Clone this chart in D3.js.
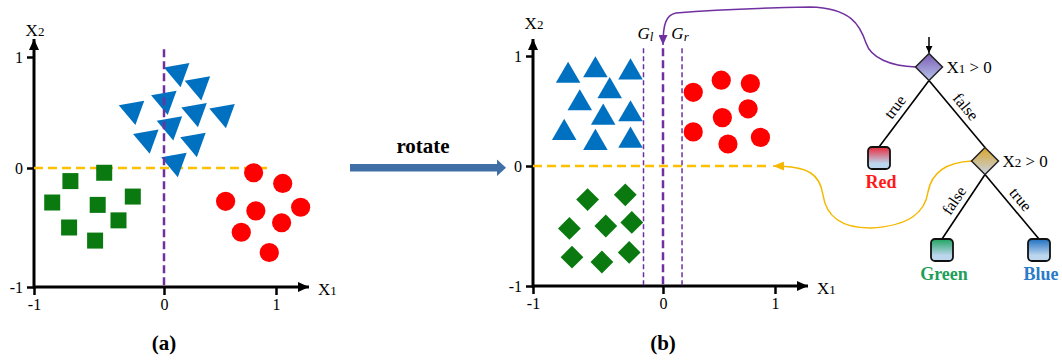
<!DOCTYPE html>
<html>
<head>
<meta charset="utf-8">
<script src="https://cdn.jsdelivr.net/npm/d3@7"></script>
<style>
  body { margin: 0; background: #fff; }
  svg { display: block; }
</style>
</head>
<body>
<svg id="chart"></svg>
<script>
const tickValues = [-1, 0, 1];
const tickLabels = ["-1", "0", "1"];

// panel (a): original points
const squaresA = [[-0.72, -0.11], [-0.46, -0.04], [-0.86, -0.29], [-0.51, -0.31], [-0.24, -0.24], [-0.73, -0.5], [-0.35, -0.44], [-0.53, -0.61]];
const circlesA = [[0.8, -0.04], [1.06, -0.13], [0.55, -0.28], [0.82, -0.36], [1.22, -0.33], [0.69, -0.54], [1.05, -0.46], [0.94, -0.71]];
const trianglesA = [[0.125, 0.86], [0.31, 0.74], [-0.24, 0.52], [0.01, 0.61], [0.28, 0.5], [0.53, 0.49], [0.06, 0.38], [-0.13, 0.26], [0.27, 0.23], [0.1, 0.05]];

// panel (b): rotated points
const trianglesB = [[-0.73, 0.82], [-0.52, 0.87], [-0.25, 0.85], [-0.41, 0.68], [-0.64, 0.57], [-0.46, 0.44], [-0.25, 0.47], [-0.76, 0.3], [-0.52, 0.21], [-0.25, 0.23]];
const circlesB = [[0.27, 0.67], [0.52, 0.78], [0.78, 0.75], [0.53, 0.44], [0.76, 0.52], [0.27, 0.31], [0.58, 0.2], [0.87, 0.26]];
const diamondsB = [[-0.58, -0.28], [-0.29, -0.24], [-0.72, -0.52], [-0.44, -0.5], [-0.24, -0.47], [-0.7, -0.76], [-0.47, -0.8], [-0.26, -0.72]];

const splitX = 0;
const splitY = 0;
const gapLeft = -0.15;
const gapRight = 0.17;
const lineTop = 1.07;
const lineRight = 0.96;

const width = 1062;
const height = 360;
const serif = "'Liberation Serif', 'Times New Roman', serif";

const svg = d3.select("#chart").attr("width", width).attr("height", height);
svg.append("rect").attr("width", width).attr("height", height).attr("fill", "#fff");

const defs = svg.append("defs");

function addMarker(id, color, len, wid) {
  defs
    .append("marker")
    .attr("id", id)
    .attr("markerUnits", "userSpaceOnUse")
    .attr("viewBox", `0 0 ${len} ${wid}`)
    .attr("markerWidth", len)
    .attr("markerHeight", wid)
    .attr("refX", len)
    .attr("refY", wid / 2)
    .attr("orient", "auto")
    .append("path")
    .attr("d", `M0,0L${len},${wid / 2}L0,${wid}Z`)
    .attr("fill", color);
}
addMarker("axisArrow", "#000", 11, 10);
addMarker("purpleArrow", "#7030a0", 10, 9);
addMarker("orangeArrow", "#f5b800", 11, 9);
addMarker("smallArrow", "#000", 7, 7);

function addGradient(id, top, bottom, stop) {
  const g = defs.append("linearGradient").attr("id", id).attr("x1", 0).attr("y1", 0).attr("x2", 0).attr("y2", 1);
  g.append("stop").attr("offset", "0%").attr("stop-color", top);
  g.append("stop").attr("offset", stop).attr("stop-color", bottom);
}
addGradient("gradRoot", "#7b5cb4", "#b6c3ea", "100%");
addGradient("gradGold", "#d8a62a", "#c9d2e6", "100%");
addGradient("gradRed", "#e8283a", "#bcd6ee", "75%");
addGradient("gradGreen", "#1ea35e", "#bcd6ee", "75%");
addGradient("gradBlue", "#1f6fc0", "#bcd6ee", "75%");

function makeX(x0) {
  return d3.scaleLinear().domain(tickValues).range([x0, x0 + 130, x0 + 242]);
}

function drawPanel(opts) {
  const { x, y, xEnd, yEnd, x1Label, x2Label, caption } = opts;
  const g = svg.append("g");

  const xAxis = d3.axisBottom(x).tickValues(tickValues).tickSize(8).tickPadding(4)
    .tickFormat((d, i) => tickLabels[i]);
  const yAxis = d3.axisLeft(y).tickValues(tickValues).tickSize(7).tickPadding(4)
    .tickFormat((d, i) => tickLabels[i]);

  g.append("g").attr("transform", `translate(0,${y(-1)})`).call(xAxis)
    .call((a) => a.select(".domain").remove());
  g.append("g").attr("transform", `translate(${x(-1)},0)`).call(yAxis)
    .call((a) => a.select(".domain").remove());
  g.selectAll(".tick line").attr("stroke", "#000").attr("stroke-width", 2.5);
  g.selectAll(".tick text").attr("fill", "#000").style("font-family", serif).style("font-size", "16px");

  g.append("line")
    .attr("x1", x(-1)).attr("y1", y(-1)).attr("x2", xEnd).attr("y2", y(-1))
    .attr("stroke", "#000").attr("stroke-width", 3).attr("marker-end", "url(#axisArrow)");
  g.append("line")
    .attr("x1", x(-1)).attr("y1", y(-1) + 1.5).attr("x2", x(-1)).attr("y2", yEnd)
    .attr("stroke", "#000").attr("stroke-width", 3).attr("marker-end", "url(#axisArrow)");

  const xl = g.append("text").attr("x", x1Label[0]).attr("y", x1Label[1])
    .style("font-family", serif).style("font-size", "17px").text("X");
  xl.append("tspan").style("font-size", "13px").text("1");
  const yl = g.append("text").attr("x", x2Label[0]).attr("y", x2Label[1]).attr("text-anchor", "middle")
    .style("font-family", serif).style("font-size", "17px").text("X");
  yl.append("tspan").style("font-size", "13px").text("2");

  g.append("text").attr("x", x(0)).attr("y", 350).attr("text-anchor", "middle")
    .style("font-family", serif).style("font-size", "21px").style("font-weight", "bold").text(caption);
  return g;
}

// ---------- panel (a)
const xA = makeX(34);
const yA = d3.scaleLinear().domain(tickValues).range([287, 168, 57]);
const gA = drawPanel({ x: xA, y: yA, xEnd: 309, yEnd: 39, x1Label: [318, 295], x2Label: [35, 36], caption: "(a)" });

gA.append("line")
  .attr("x1", xA(-1)).attr("x2", xA(lineRight)).attr("y1", yA(splitY)).attr("y2", yA(splitY))
  .attr("stroke", "#ffc000").attr("stroke-width", 2.5).attr("stroke-dasharray", "9,5");

gA.selectAll(".sq").data(squaresA).enter().append("rect")
  .attr("x", (d) => xA(d[0]) - 8).attr("y", (d) => yA(d[1]) - 8)
  .attr("width", 16).attr("height", 16).attr("fill", "#0a7a10");

gA.selectAll(".ci").data(circlesA).enter().append("circle")
  .attr("cx", (d) => xA(d[0])).attr("cy", (d) => yA(d[1])).attr("r", 9.6).attr("fill", "#ff0000");

const triSym = d3.symbol().type(d3.symbolTriangle).size(290);
gA.selectAll(".tr").data(trianglesA).enter().append("path")
  .attr("d", triSym)
  .attr("transform", (d) => `translate(${xA(d[0])},${yA(d[1])}) rotate(50)`)
  .attr("fill", "#0070c0");

gA.append("line")
  .attr("x1", xA(splitX)).attr("x2", xA(splitX)).attr("y1", yA(lineTop)).attr("y2", yA(-1))
  .attr("stroke", "#7030a0").attr("stroke-width", 2.5).attr("stroke-dasharray", "8,4");

// ---------- rotate arrow
const rot = svg.append("g");
rot.append("path")
  .attr("d", "M350,164L497,164L497,159.5L506,167.8L497,176L497,171.5L350,171.5Z")
  .attr("fill", "#3f6fa6");
rot.append("text").attr("x", 423).attr("y", 153).attr("text-anchor", "middle")
  .style("font-family", serif).style("font-size", "21px").style("font-weight", "bold").text("rotate");

// ---------- panel (b)
const xB = makeX(533);
const yB = d3.scaleLinear().domain(tickValues).range([286, 166, 56]);
const gB = drawPanel({ x: xB, y: yB, xEnd: 808, yEnd: 39, x1Label: [817, 294], x2Label: [534, 29], caption: "(b)" });

gB.append("line")
  .attr("x1", xB(-1)).attr("x2", xB(lineRight)).attr("y1", yB(splitY)).attr("y2", yB(splitY))
  .attr("stroke", "#ffc000").attr("stroke-width", 2.5).attr("stroke-dasharray", "9,5");

const triUp = d3.symbol().type(d3.symbolTriangle).size(260);
gB.selectAll(".tr").data(trianglesB).enter().append("path")
  .attr("d", triUp)
  .attr("transform", (d) => `translate(${xB(d[0])},${yB(d[1])})`)
  .attr("fill", "#0070c0");

gB.selectAll(".ci").data(circlesB).enter().append("circle")
  .attr("cx", (d) => xB(d[0])).attr("cy", (d) => yB(d[1])).attr("r", 9.6).attr("fill", "#ff0000");

const sqSym = d3.symbol().type(d3.symbolSquare).size(260);
gB.selectAll(".di").data(diamondsB).enter().append("path")
  .attr("d", sqSym)
  .attr("transform", (d) => `translate(${xB(d[0])},${yB(d[1])}) rotate(45)`)
  .attr("fill", "#0a7a10");

[gapLeft, gapRight].forEach((v) => {
  gB.append("line")
    .attr("x1", xB(v)).attr("x2", xB(v)).attr("y1", yB(lineTop)).attr("y2", yB(-1))
    .attr("stroke", "#7030a0").attr("stroke-width", 1.5).attr("stroke-dasharray", "5,3");
});
gB.append("line")
  .attr("x1", xB(splitX)).attr("x2", xB(splitX)).attr("y1", yB(lineTop)).attr("y2", yB(-1))
  .attr("stroke", "#7030a0").attr("stroke-width", 2.5).attr("stroke-dasharray", "8,4");

function gLabel(xp, sub) {
  const t = gB.append("text").attr("x", xp).attr("y", 39).attr("text-anchor", "middle")
    .style("font-family", serif).style("font-style", "italic").style("font-size", "17px").text("G");
  t.append("tspan").attr("dy", 2).style("font-size", "13px").text(sub);
}
gLabel(xB(gapLeft) + 2, "l");
gLabel(xB(gapRight) - 2, "r");

// ---------- decision tree
const nodes = [
  { id: "root", kind: "split", x: 929, y: 67, fill: "url(#gradRoot)", v: "1" },
  { id: "red", kind: "leaf", x: 879, y: 158, fill: "url(#gradRed)", label: "Red", color: "#ff1a1a" },
  { id: "x2", kind: "split", x: 985, y: 161, fill: "url(#gradGold)", v: "2" },
  { id: "green", kind: "leaf", x: 942, y: 250, fill: "url(#gradGreen)", label: "Green", color: "#1e9e58" },
  { id: "blue", kind: "leaf", x: 1039, y: 250, fill: "url(#gradBlue)", label: "Blue", color: "#2a7bc8" },
];
const links = [
  { s: "root", t: "red", text: "true" },
  { s: "root", t: "x2", text: "false" },
  { s: "x2", t: "green", text: "false" },
  { s: "x2", t: "blue", text: "true" },
];
const byId = Object.fromEntries(nodes.map((n) => [n.id, n]));
const half = 13.5;
const box = 11;

const tree = svg.append("g");

// connectors to the chart
tree.append("path")
  .attr("d", "M916,67C890,66 871,58 866,43C860,25 851,8 810,7C760,8 700,11 676,13C666,15 663,24 663,45")
  .attr("fill", "none").attr("stroke", "#7030a0").attr("stroke-width", 1.5)
  .attr("marker-end", "url(#purpleArrow)");
tree.append("path")
  .attr("d", "M972,161C950,162 932,170 928,192C925,212 910,226 870,228C840,228 826,215 823,195C820,175 810,166 773,166")
  .attr("fill", "none").attr("stroke", "#f5b800").attr("stroke-width", 1.5)
  .attr("marker-end", "url(#orangeArrow)");

links.forEach((l) => {
  const a = byId[l.s];
  const b = byId[l.t];
  const x1 = a.x, y1 = a.y + half;
  const x2 = b.x, y2 = b.kind === "leaf" ? b.y - box : b.y - half;
  tree.append("line").attr("x1", x1).attr("y1", y1).attr("x2", x2).attr("y2", y2)
    .attr("stroke", "#000").attr("stroke-width", 1.6);
  let ang = (Math.atan2(y2 - y1, x2 - x1) * 180) / Math.PI;
  if (ang > 90) ang -= 180;
  tree.append("text")
    .attr("transform", `translate(${(x1 + x2) / 2},${(y1 + y2) / 2}) rotate(${ang})`)
    .attr("text-anchor", "middle").attr("dy", -6)
    .style("font-family", serif).style("font-size", "16px").text(l.text);
});

// small entry arrow above the root
tree.append("line").attr("x1", 929).attr("y1", 37).attr("x2", 929).attr("y2", 53)
  .attr("stroke", "#000").attr("stroke-width", 1.5).attr("marker-end", "url(#smallArrow)");

nodes.forEach((n) => {
  if (n.kind === "split") {
    tree.append("path")
      .attr("d", `M${n.x},${n.y - half}L${n.x + half},${n.y}L${n.x},${n.y + half}L${n.x - half},${n.y}Z`)
      .attr("fill", n.fill).attr("stroke", "#222").attr("stroke-width", 1.5);
    const t = tree.append("text").attr("x", n.x + half + 4).attr("y", n.y + 6)
      .style("font-family", serif).style("font-size", "17px").text("X");
    t.append("tspan").style("font-size", "13px").text(n.v);
    t.append("tspan").text(" > 0");
  } else {
    tree.append("rect")
      .attr("x", n.x - box).attr("y", n.y - box).attr("width", box * 2).attr("height", box * 2)
      .attr("rx", 4).attr("fill", n.fill).attr("stroke", "#111").attr("stroke-width", 1.8);
    tree.append("text").attr("x", n.x + 2).attr("y", n.y + 30).attr("text-anchor", "middle")
      .style("font-family", serif).style("font-size", "18px").style("font-weight", "bold")
      .attr("fill", n.color).text(n.label);
  }
});
</script>
</body>
</html>
